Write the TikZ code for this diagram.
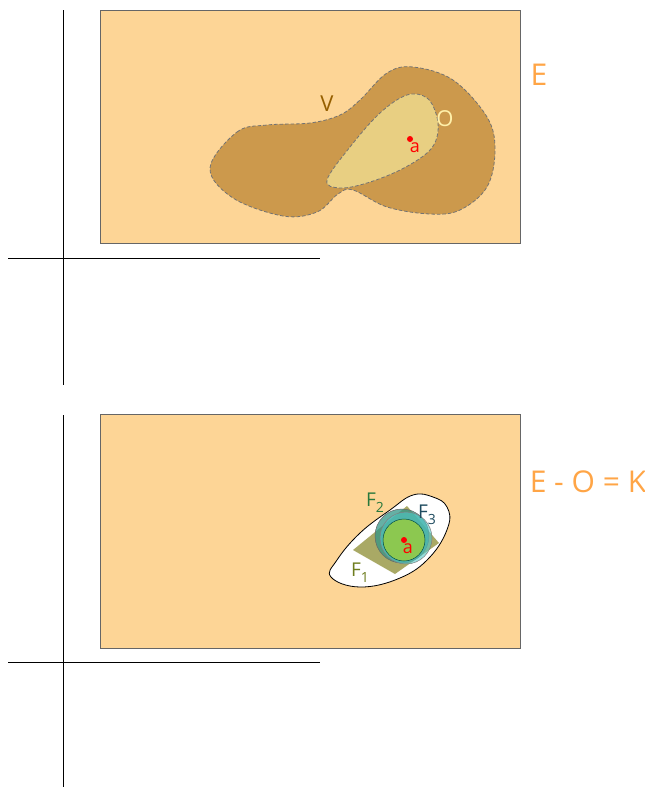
\documentclass[tikz,border=0pt]{standalone}
\usepackage{fontspec}
\setmainfont{Open Sans}
\newcommand{\subtxt}[1]{\raisebox{-0.3em}{\fontsize{14}{16}\selectfont #1}}
\begin{document}
\begin{tikzpicture}[x=1pt,y=-1pt,
  axis/.style={line width=0.8pt,black},
  panel/.style={fill=bgc,draw=gray!80!black,line width=0.8pt},
  lbl/.style={inner sep=0pt,anchor=center},
  dashedge/.style={draw=black!55,dash pattern=on 3.5pt off 2pt,line width=0.8pt}]
\definecolor{bgc}{RGB}{253,213,150}
\definecolor{vfill}{RGB}{204,153,76}
\definecolor{ofill}{RGB}{232,207,130}
\definecolor{orng}{RGB}{255,165,70}
\definecolor{vbrown}{RGB}{150,95,0}
\definecolor{olab}{RGB}{255,240,170}
\definecolor{fone}{RGB}{110,125,30}
\definecolor{ftwo}{RGB}{40,120,60}
\definecolor{fthree}{RGB}{30,75,95}
\definecolor{dia}{RGB}{160,160,85}
\definecolor{gcirc}{RGB}{140,200,80}
\definecolor{tcirc}{RGB}{50,150,135}
\definecolor{ccirc}{RGB}{80,200,200}
\useasboundingbox (0,0) rectangle (645,788);
% top panel
\draw[axis] (63,10) -- (63,385);
\draw[axis] (8,258) -- (320,258);
\draw[panel] (100,10) rectangle (520,243);
\draw[fill=vfill,dashedge] plot[smooth cycle,tension=0.6] coordinates {
 (210,168) (237,132) (267,125) (310,123) (340,115) (360,100) (387,73) (413,67) (453,80)
 (487,117) (495,150) (487,187) (460,210) (430,214) (387,207) (353,190)
 (338,194) (317,212) (283,216) (233,198)};
\draw[fill=ofill,dashedge] plot[smooth cycle,tension=0.6] coordinates {
 (327,180) (350,147) (380,113) (407,95) (427,98) (437,117) (437,137)
 (427,153) (400,170) (367,183) (340,188)};
\node[lbl,text=vbrown,font=\fontsize{22}{24}\selectfont] (V) at (327,104) {V};
\node[lbl,text=olab,font=\fontsize{22}{24}\selectfont] (O) at (445,119) {O};
\fill[red] (410,139) circle (3);
\coordinate (pa) at (410,139);
\node[lbl,text=red,font=\fontsize{18}{20}\selectfont] (la) at (415,148) {a};
\node[lbl,text=orng,font=\fontsize{30}{32}\selectfont] (E) at (539,75) {E};
% bottom panel
\draw[axis] (63,415) -- (63,787);
\draw[axis] (8,662) -- (320,662);
\draw[panel] (100,414) rectangle (520,648);
\draw[fill=white,draw=black,line width=0.8pt] plot[smooth cycle,tension=0.7] coordinates {
 (331,577) (360,587) (400,578) (430,557) (448,527) (447,507) (433,497)
 (413,495) (390,510) (360,533) (337,560)};
\fill[dia,opacity=0.9] (353,550) -- (407,506) -- (439,543) -- (395,574) -- cycle;
\draw[fill=tcirc,fill opacity=0.75,draw=black!60,line width=0.5pt] (402,536) circle (27);
\draw[fill=ccirc,fill opacity=0.6,draw=black!50,line width=0.5pt] (406,538) circle (26);
\draw[fill=gcirc,draw=teal!60!black,line width=0.5pt] (404,540) circle (21);
\fill[red] (404,540) circle (3);
\node[lbl,text=red,font=\fontsize{18}{20}\selectfont] (lb) at (408,549) {a};
\node[lbl,text=ftwo,font=\fontsize{19}{21}\selectfont] (F2) at (375,503) {F\subtxt{2}};
\node[lbl,text=fthree,font=\fontsize{19}{21}\selectfont] (F3) at (427,515) {F\subtxt{3}};
\node[lbl,text=fone,font=\fontsize{19}{21}\selectfont] (F1) at (360,573) {F\subtxt{1}};
\node[lbl,text=orng,font=\fontsize{30}{32}\selectfont] (K) at (588,482) {E - O = K};
\end{tikzpicture}
\end{document}
